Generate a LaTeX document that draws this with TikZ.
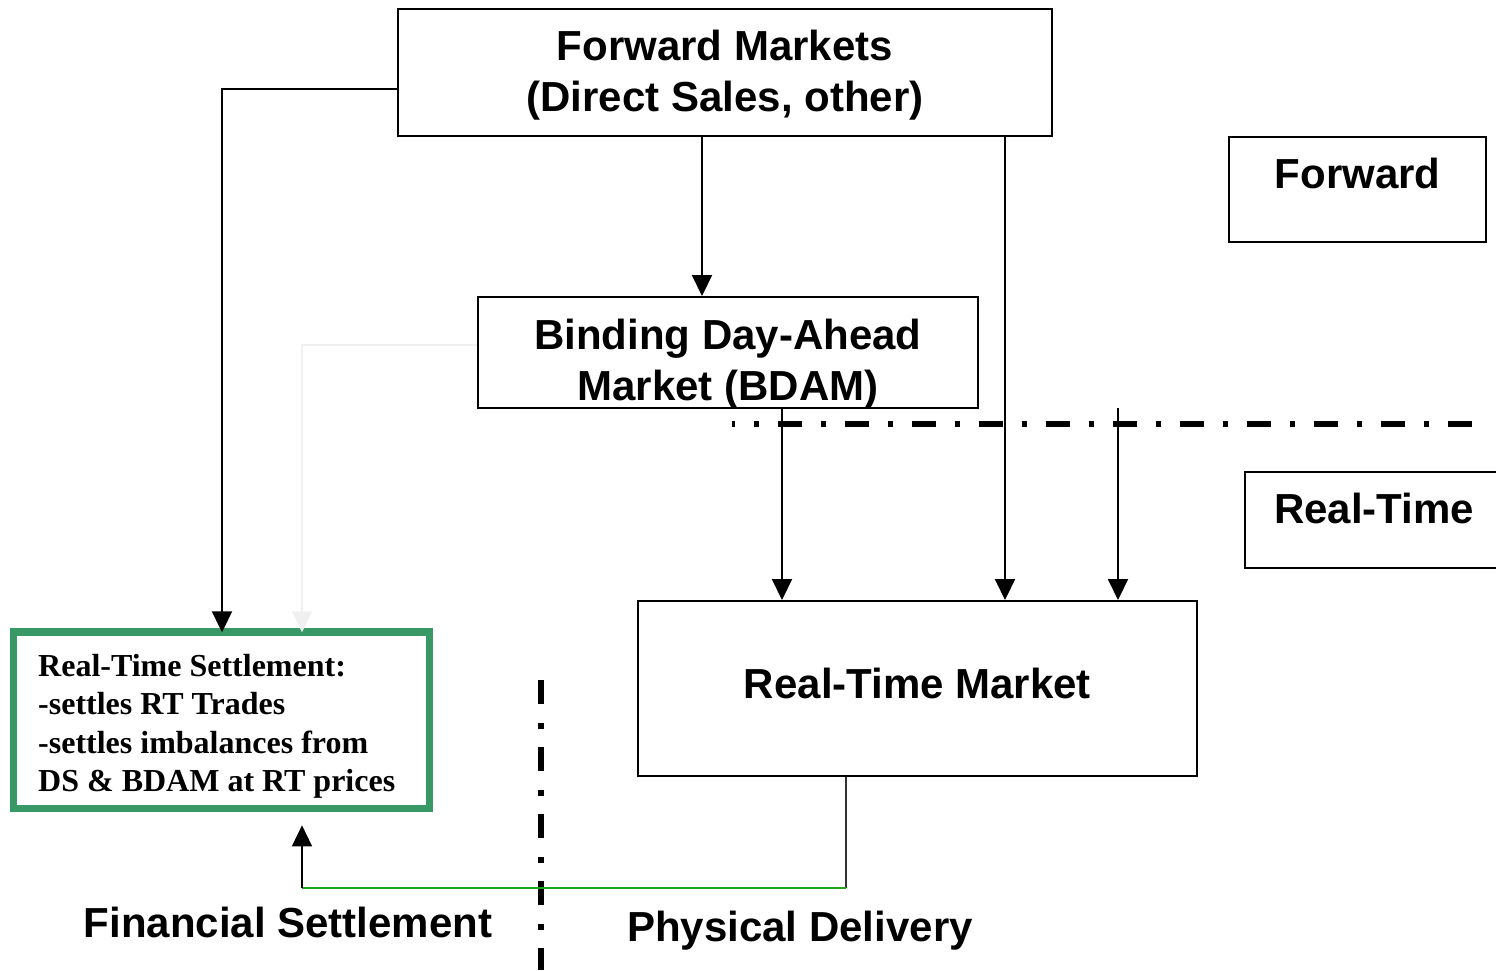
\documentclass[tikz,border=0pt]{standalone}
\usepackage{fontspec}
\setmainfont{Liberation Serif}
\newfontfamily\headfont{Liberation Sans}
\usetikzlibrary{arrows.meta,calc}

\definecolor{settlegreen}{RGB}{56,153,102}
\definecolor{flowgreen}{RGB}{30,165,30}
\definecolor{faintgray}{RGB}{240,240,240}

\tikzset{
  box/.style={draw=black, line width=2pt, inner sep=0pt, fill=white},
  headtext/.style={font=\headfont\bfseries\fontsize{42}{51}\selectfont, inner sep=0pt, align=center},
  notetext/.style={font=\bfseries\fontsize{32}{38.5}\selectfont, inner sep=0pt, align=left},
  arr/.style={line width=2pt, -{Triangle[length=21pt,width=20pt]}},
  divider/.style={line width=6pt, dash pattern=on 24pt off 19pt on 5.5pt off 18.5pt},
}

\begin{document}
\begin{tikzpicture}[x=1pt,y=-1pt]
\useasboundingbox (0,0) rectangle (1496,970);
\clip (0,0) rectangle (1496,970);

% market boxes
\node[box, minimum width=654pt, minimum height=127pt] (fm) at (725,72.5) {};
\node[box, minimum width=257pt, minimum height=105pt] (fwd) at (1357.5,189.5) {};
\node[box, minimum width=500pt, minimum height=111pt] (bdam) at (728,352.5) {};
\node[box, minimum width=275pt, minimum height=96pt] (rt) at (1382.5,520) {};
\node[box, minimum width=559pt, minimum height=175pt] (rtm) at (917.5,688.5) {};
\node[draw=settlegreen, line width=7.5pt, minimum width=416pt, minimum height=176.5pt, inner sep=0pt] (rts) at (221.3,720.3) {};

% box captions
\node[headtext] (fmtxt) at (725,75.6) {Forward Markets\\(Direct Sales, other)};
\node[headtext, anchor=base] (fwdtxt) at (1357.5,188) {Forward};
\node[headtext] (bdamtxt) at (728,364.6) {Binding Day-Ahead\\Market (BDAM)};
\node[headtext, anchor=base] (rttxt) at (1374,523) {Real-Time};
\node[headtext, anchor=base] (rtmtxt) at (917.5,698) {Real-Time Market};
\node[notetext, anchor=north west] (rtstxt) at (38,654) {Real-Time Settlement:\\-settles RT Trades\\-settles imbalances from\\DS \& BDAM at RT prices};

% side captions
\node[headtext, anchor=base] (fin) at (288,937) {Financial Settlement};
\node[headtext, anchor=base] (phys) at (800,941) {Physical Delivery};

% dividers between forward / real-time and financial / physical
\coordinate (hd1) at (732,424);
\coordinate (hd2) at (1477,424);
\draw[divider, dash phase=21.5pt] (hd1) -- (hd2);
\coordinate (vd1) at (541,680);
\coordinate (vd2) at (541,970);
\draw[divider] (vd1) -- (vd2);

% flows from the forward markets
\draw[arr] ([yshift=-16.5pt]fm.west) -| ([xshift=0.7pt,yshift=-4pt]rts.north);
\coordinate (fmd) at ([xshift=-23pt]fm.south);
\draw[arr] (fmd) -- (fmd |- bdam.north);
\coordinate (fmr) at ([xshift=280pt]fm.south);
\draw[arr] (fmr) -- (fmr |- rtm.north);

% flows from the day-ahead market
\draw[arr, draw=faintgray] ([yshift=7.5pt]bdam.west) -| ([xshift=80.7pt,yshift=-4pt]rts.north);
\coordinate (bdr) at ([xshift=54pt]bdam.south);
\draw[arr] (bdr) -- (bdr |- rtm.north);

% real-time input
\coordinate (rtin) at (1118,408);
\draw[arr] (rtin) -- (rtin |- rtm.north);

% return path from the real-time market to settlement
\coordinate (rr1) at ([xshift=-71.5pt]rtm.south);
\coordinate (rr2) at (rr1 |- 0,888);
\coordinate (rr3) at ([xshift=80.7pt]rts.south |- rr2);
\coordinate (rrtip) at ([xshift=80.7pt,yshift=-13pt]rts.south);
\draw[line width=1.5pt, draw=black!80] (rr1) -- (rr2);
\draw[line width=2pt, draw=flowgreen] (rr2) -- (rr3);
\draw[arr, line width=1.5pt] (rr3) -- (rrtip);
\end{tikzpicture}
\end{document}
